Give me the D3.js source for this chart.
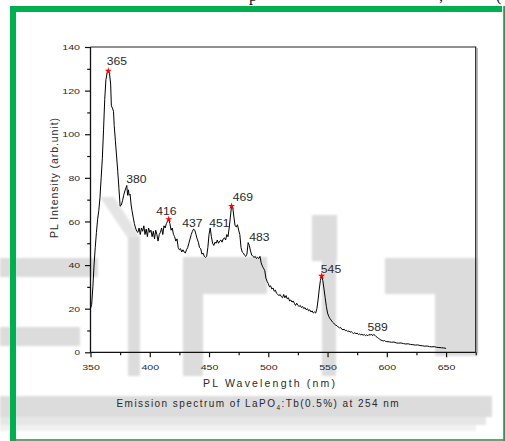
<!DOCTYPE html>
<html>
<head>
<meta charset="utf-8">
<script src="https://cdn.jsdelivr.net/npm/d3@7"></script>
<style>
  html, body { margin: 0; padding: 0; background: #fff; overflow: hidden; }
  svg { display: block; }
</style>
</head>
<body>
<svg id="chart" width="505" height="441"></svg>
<script>
// Emission spectrum of LaPO4:Tb(0.5%), excitation 254 nm: [wavelength nm, PL intensity]
const spectrum = [
  [350,20],[351,22],[352,30],[353,40],[354,48],[355,55],[356,61],[357,65],[358,71],[359,80],
  [360,89],[361,102],[362,116],[363,125],[364,128],[365,129],[366,128],[367,123],[367.6,113],[368.5,112],
  [369.4,110.5],[370,104],[371,97],[372,90],[373,83],[374,75],[375,67],[376,67.5],[377,69.5],[378,72],
  [379,74],[380,75.5],[380.6,76.5],[381.3,72],[382,74.5],[382.6,72],[383.4,72.5],[384.2,68],[385,65],[386,62],
  [387,59],[388,57],[389,55.5],[390,55],[391,57],[392,54],[393,57],[394,55.5],[395,58],[396,54],
  [397,56.5],[398,53],[399,57],[400,55],[401,56],[402,53],[403,55.5],[404,52],[405,56],[406,54],
  [407,51],[408,54],[409,55],[410,57],[411,54],[412,58],[413,57],[414,59],[415,60],[416,61],
  [417,59],[418,56],[419,57],[420,54],[421,53],[422,51],[423,52],[424,48],[425,47],[426,47.5],
  [427,46],[428,47],[429,46],[430,45.5],[431,47],[432,48],[433,50],[434,52],[435,54],[436,55.5],
  [437,56.5],[438,56],[439,54],[440,52],[441,50.5],[442,48],[443,47.5],[444,45],[445,45.5],[446,44],
  [447,43.5],[448,44],[449,48],[450,54],[451,57],[452,53],[453,50],[454,49],[455,50.5],[456,50],
  [457,51.5],[458,50],[459,51],[460,51.5],[461,50.5],[462,52],[463,52.5],[464,51.5],[465,54],[466,53],
  [467,57],[468,62],[469,67],[470,66.5],[471,62],[472,58],[473,57.5],[474,58.5],[475,56],[476,54],
  [477,48],[478,46],[479,45.5],[480,44.5],[481,44],[482,45],[483,50.3],[484,49],[485,46.5],[486,44.6],
  [487,44],[488,43.5],[489,44],[490,43],[491,43.5],[492,43],[493,44],[494,41],[495,39.5],[496,38.5],
  [497,37.5],[498,34],[499,32.5],[500,31.5],[501,30],[502,30.5],[503,29],[504,29.5],[505,28],[506,28.5],
  [507,27],[508,26.5],[509,26],[510,26.5],[511,25.5],[512,25],[513,26.5],[514,25],[515,26],[516,24.5],
  [517,25],[518,23.5],[519,24],[520,23],[521,23.5],[522,22.5],[523,21.5],[524,22.5],[525,21.5],[526,21],
  [527,21.5],[528,20.5],[529,21],[530,20],[531,20.5],[532,19.5],[533,20],[534,19],[535,19.5],[536,18.5],
  [537,19],[538,18],[539,18.5],[540,18],[541,20],[542,24],[543,29],[544,33],[545,35],[546,33],
  [547,29],[548,25],[549,21],[550,18],[551,16.5],[552,15.5],[553,14.8],[554,14],[555,13.5],[556,12.8],
  [557,12.4],[558,12.2],[559,11.6],[560,11.2],[561,11.4],[562,10.6],[563,10.3],[564,10.6],[565,9.9],[566,10.1],
  [567,9.5],[568,9.8],[569,9.2],[570,9.5],[571,9],[572,8.6],[573,9],[574,8.5],[575,8.8],[576,8.2],
  [577,8.4],[578,8],[579,8.3],[580,7.8],[581,8.2],[582,7.6],[583,8],[584,7.6],[585,8.2],[586,7.8],
  [587,8.4],[588,7.6],[589,8.2],[590,7.8],[591,7.2],[592,6.8],[593,6.4],[594,6],[595,5.6],[596,5.4],
  [597,5.2],[598,5.4],[599,5],[600,4.9],[602,4.8],[604,4.6],[606,4.7],[608,4.3],[610,4.2],[612,4.3],
  [614,4],[616,3.8],[618,3.9],[620,3.6],[622,3.5],[624,3.3],[626,3.4],[628,3.1],[630,3],[632,2.8],
  [634,2.9],[636,2.6],[638,2.5],[640,2.6],[642,2.3],[644,2.2],[646,2.1],[648,2],[650,1.8]
];

// Annotated emission peaks (nm) and the ones flagged with a star
const peakNm = [365, 380, 416, 437, 451, 469, 483, 545, 589];
const starredNm = [365, 416, 469, 545];

// Axis ticks
const xTickMajor = [350, 400, 450, 500, 550, 600, 650];
const xTickMinor = [375, 425, 475, 525, 575, 625, 675];
const yTickMajor = [0, 20, 40, 60, 80, 100, 120, 140];
const yTickMinor = [10, 30, 50, 70, 90, 110, 130];

const xTitle = "PL Wavelength (nm)";
const yTitle = "PL Intensity (arb.unit)";
const captionMain = "Emission spectrum of LaPO";
const captionSub = "4";
const captionTail = ":Tb(0.5%) at 254 nm";

// ---------- drawing ----------
const FONT = "'Liberation Sans', Arial, Helvetica, sans-serif";
const INK = "#2a2a2a";
const svg = d3.select("#chart");

const defs = svg.append("defs");
defs.append("filter").attr("id", "soft")
  .append("feGaussianBlur").attr("stdDeviation", 1.1);

// faint grey backdrop blocks behind the figure
const backdrop = svg.append("g").attr("filter", "url(#soft)");
const blocks = [
  [0, 396, 492, 21, "#dcdcdc"], [0, 417, 486, 8, "#e6e6e6"], [0, 425, 476, 6, "#f1f1f1"],
  [0, 258, 98, 19, "#dcdcdc"], [0, 327, 80, 19, "#dcdcdc"],
  [128, 236, 12, 140, "#dcdcdc"],
  [183, 257, 84, 37, "#dcdcdc"], [183, 294, 20, 82, "#dcdcdc"],
  [312, 215, 25, 46, "#dcdcdc"], [322, 261, 14, 115, "#dcdcdc"],
  [385, 258, 93, 36, "#dcdcdc"], [435, 294, 43, 62, "#dcdcdc"]
];
backdrop.selectAll("rect").data(blocks).join("rect")
  .attr("x", d => d[0]).attr("y", d => d[1])
  .attr("width", d => d[2]).attr("height", d => d[3])
  .attr("fill", d => d[4]);
backdrop.append("polygon")
  .attr("points", "100,197 114,197 140,237 127,237")
  .attr("fill", "#e4e4e4");

// scraps of the text line above the frame
svg.append("g").attr("font-family", "'Liberation Serif', 'Times New Roman', serif")
  .attr("font-size", 16).attr("fill", "#111")
  .selectAll("text").data([["p", 249], [",", 439], ["(", 496]]).join("text")
  .attr("x", d => d[1]).attr("y", 0.8).text(d => d[0]);

// scales
const x = d3.scaleLinear().domain([350, 675]).range([90.5, 475.7]);
const y = d3.scaleLinear().domain([0, 140]).range([352.3, 47]);

// frame (top + right) with a light drop edge
const frame = svg.append("g");
frame.append("line").attr("x1", x(675) + 1.6).attr("x2", x(675) + 1.6)
  .attr("y1", y(140) + 1).attr("y2", y(0) + 1)
  .attr("stroke", "#b8b8b8").attr("stroke-width", 1.4);
frame.append("path")
  .attr("d", `M${x(350)},${y(140)}H${x(675)}V${y(0)}`)
  .attr("fill", "none").attr("stroke", "#222").attr("stroke-width", 1.2);

function fitDigits(sel) {
  sel.each(function () {
    const t = d3.select(this);
    const n = t.text().length;
    if (n) t.attr("textLength", 6.1 * n - 0.6).attr("lengthAdjust", "spacingAndGlyphs");
  });
}

// x axis
const gx = svg.append("g").attr("transform", `translate(0,${y(0)})`);
gx.call(d3.axisBottom(x).tickValues(xTickMajor).tickSize(5).tickPadding(7).tickFormat(d3.format("d")));
const gxm = svg.append("g").attr("transform", `translate(0,${y(0)})`);
gxm.call(d3.axisBottom(x).tickValues(xTickMinor).tickSize(3).tickFormat(""));

// y axis
const gy = svg.append("g").attr("transform", `translate(${x(350)},0)`);
gy.call(d3.axisLeft(y).tickValues(yTickMajor).tickSize(5.5).tickPadding(5).tickFormat(d3.format("d")));
const gym = svg.append("g").attr("transform", `translate(${x(350)},0)`);
gym.call(d3.axisLeft(y).tickValues(yTickMinor).tickSize(3.3).tickFormat(""));

[gx, gxm, gy, gym].forEach(g => {
  g.select(".domain").remove();
  g.selectAll(".tick line").attr("stroke", "#111").attr("stroke-width", 1.2);
  g.selectAll(".tick text").attr("font-family", FONT).attr("font-size", 8).attr("fill", INK)
    .call(fitDigits);
});

// axis lines
svg.append("path")
  .attr("d", `M${x(350)},${y(140)}V${y(0)}H${x(675)}`)
  .attr("fill", "none").attr("stroke", "#111").attr("stroke-width", 1.3);

// spectrum trace
const line = d3.line().x(d => x(d[0])).y(d => y(d[1]));
svg.append("path").datum(spectrum)
  .attr("d", line)
  .attr("fill", "none").attr("stroke", "#000").attr("stroke-width", 1)
  .attr("stroke-linejoin", "round");

// peak lookup
const valueAt = nm => spectrum.find(d => d[0] === nm)[1];

// star markers
svg.append("g").selectAll("path").data(starredNm).join("path")
  .attr("transform", d => `translate(${x(d)},${y(valueAt(d))})`)
  .attr("d", d3.symbol(d3.symbolStar, 15))
  .attr("fill", "#ff0000");

// peak labels, nudged clear of the trace
const labelNudge = {
  365: [8.7, -6.1], 380: [10.3, -5], 416: [-2.3, -4.3], 437: [-1.3, -1.8], 451: [9.2, -1.3],
  469: [11.3, -5.2], 483: [11.2, -1.9], 545: [9.4, -2.7], 589: [3.8, -3.7]
};
svg.append("g").selectAll("text").data(peakNm).join("text")
  .attr("x", d => x(d) + labelNudge[d][0])
  .attr("y", d => y(valueAt(d)) + labelNudge[d][1])
  .attr("text-anchor", "middle")
  .attr("font-family", FONT).attr("font-size", 10.5).attr("fill", INK)
  .attr("textLength", 20.3).attr("lengthAdjust", "spacingAndGlyphs")
  .text(d => d);

// spread a text run to a target width via letter spacing
function spread(node, width) {
  const n = node.getNumberOfChars();
  const w = node.getComputedTextLength();
  const ls = (width - w) / (n - 1);
  d3.select(node).attr("letter-spacing", ls.toFixed(3));
  return ls;
}

// x title
const xt = svg.append("text")
  .attr("x", 269).attr("y", 386.5).attr("text-anchor", "middle")
  .attr("font-family", FONT).attr("font-size", 10.5).attr("fill", INK)
  .text(xTitle);
const lsx = spread(xt.node(), 132);
xt.attr("x", 269 + lsx / 2);

// y title
const yt = svg.append("text")
  .attr("transform", "translate(57.5,178) rotate(-90)")
  .attr("text-anchor", "middle")
  .attr("font-family", FONT).attr("font-size", 10.5).attr("fill", INK)
  .text(yTitle);
const lsy = spread(yt.node(), 120);
yt.attr("transform", `translate(57.5,${178 - lsy / 2}) rotate(-90)`);

// caption
const cap = svg.append("text")
  .attr("x", 257.5).attr("y", 406.5).attr("text-anchor", "middle")
  .attr("font-family", FONT).attr("font-size", 10).attr("fill", INK);
cap.append("tspan").text(captionMain);
cap.append("tspan").attr("font-size", 6.5).attr("dy", 3).text(captionSub);
cap.append("tspan").attr("dy", -3).text(captionTail);
const lsc = spread(cap.node(), 282);
cap.attr("x", 257.5 + lsc / 2);

// green border
const GREEN = "#00b050";
const border = svg.append("g").attr("fill", GREEN);
border.append("rect").attr("x", 10).attr("y", 6).attr("width", 6).attr("height", 435);
border.append("rect").attr("x", 10).attr("y", 6).attr("width", 492).attr("height", 6);
border.append("rect").attr("x", 503.2).attr("y", 6).attr("width", 1.8).attr("height", 435);
border.append("rect").attr("x", 10).attr("y", 439.2).attr("width", 495).attr("height", 1.6);
</script>
</body>
</html>
